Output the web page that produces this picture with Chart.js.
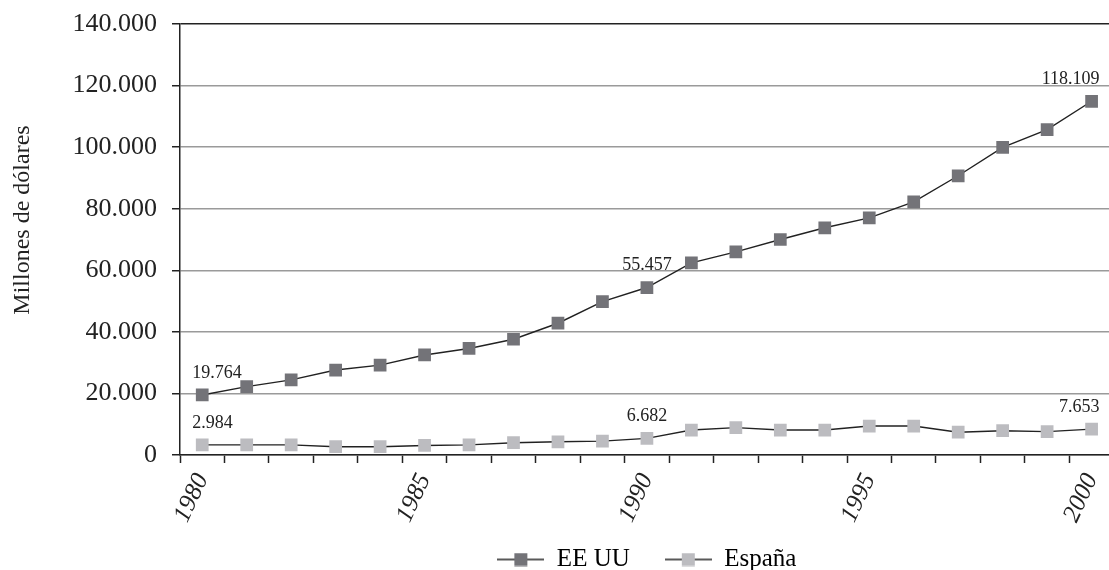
<!DOCTYPE html>
<html>
<head>
<meta charset="utf-8">
<script src="https://cdn.jsdelivr.net/npm/chart.js@4.4.1/dist/chart.umd.min.js"></script>
<style>
  html, body { margin: 0; padding: 0; background: #fff; overflow: hidden; }
  #wrap { width: 1109px; height: 570px; overflow: hidden; position: relative; }
  #wrap canvas { position: absolute; left: 0; top: 0; }
</style>
</head>
<body>
<div id="wrap"><canvas id="chart" width="1125" height="582"></canvas></div>
<script>
// Data (millones de dólares)
const years = ['1980', '1981', '1982', '1983', '1984', '1985', '1986', '1987', '1988', '1989', '1990',
  '1991', '1992', '1993', '1994', '1995', '1996', '1997', '1998', '1999', '2000'];
const usa = [19500, 22200, 24400, 27600, 29200, 32500, 34600, 37600, 42800, 49800, 54400,
  62400, 66000, 70000, 73800, 77000, 82200, 90700, 99900, 105700, 114900];
const spain = [3300, 3300, 3300, 2700, 2700, 3100, 3300, 4000, 4300, 4500, 5400,
  8100, 8900, 8100, 8100, 9400, 9400, 7400, 7900, 7600, 8400];
const shownYears = ['1980', '1985', '1990', '1995', '2000'];
const yTicks = [0, 20000, 40000, 60000, 80000, 100000, 120000, 140000];
const usaLabels = { '1980': '19.764', '1990': '55.457', '2000': '118.109' };
const spainLabels = { '1980': '2.984', '1990': '6.682', '2000': '7.653' };

const SERIF = "'Liberation Serif', 'DejaVu Serif', serif";
const fmt = v => v === 0 ? '0' : String(v).replace(/\B(?=(\d{3})+(?!\d))/g, '.');

// legend marker: short line with a square in the middle
function legendMarker(fill) {
  const c = document.createElement('canvas');
  c.width = 47; c.height = 14;
  const g = c.getContext('2d');
  g.strokeStyle = '#222';
  g.lineWidth = 1.5;
  g.beginPath(); g.moveTo(0, 7); g.lineTo(47, 7); g.stroke();
  g.fillStyle = fill;
  g.fillRect(17, 0.5, 13, 13);
  return c;
}

const valueLabels = {
  id: 'valueLabels',
  afterDatasetsDraw(chart) {
    const { ctx } = chart;
    const sets = [usaLabels, spainLabels];
    ctx.save();
    ctx.font = '18px ' + SERIF;
    ctx.fillStyle = '#222';
    ctx.textBaseline = 'middle';
    sets.forEach((labels, di) => {
      const meta = chart.getDatasetMeta(di);
      meta.data.forEach((pt, i) => {
        const txt = labels[years[i]];
        if (!txt) return;
        let x = pt.x;
        if (i === 0) { ctx.textAlign = 'left'; x = pt.x - 10; }
        else if (i === years.length - 1) { ctx.textAlign = 'right'; x = pt.x + 8; }
        else { ctx.textAlign = 'center'; }
        ctx.fillText(txt, x, pt.y - 22);
      });
    });
    ctx.restore();
  }
};

const yTitle = {
  id: 'yTitle',
  afterDraw(chart) {
    const { ctx } = chart;
    ctx.save();
    ctx.translate(23, 220);
    ctx.rotate(-Math.PI / 2);
    ctx.font = '24px ' + SERIF;
    ctx.fillStyle = '#222';
    ctx.textAlign = 'center';
    ctx.textBaseline = 'middle';
    ctx.fillText('Millones de dólares', 0, 0);
    ctx.restore();
  }
};

const markers = { 'EE UU': legendMarker('#737378'), 'España': legendMarker('#bcbcc0') };

new Chart(document.getElementById('chart'), {
  type: 'line',
  data: {
    labels: years,
    datasets: [
      {
        label: 'EE UU',
        data: usa,
        borderColor: '#222',
        borderWidth: 1.4,
        pointStyle: 'rect',
        pointRadius: 9,
        pointBorderWidth: 0,
        pointBackgroundColor: '#737378',
        tension: 0,
      },
      {
        label: 'España',
        data: spain,
        borderColor: '#222',
        borderWidth: 1.4,
        pointStyle: 'rect',
        pointRadius: 9,
        pointBorderWidth: 0,
        pointBackgroundColor: '#bcbcc0',
        tension: 0,
      },
    ],
  },
  options: {
    responsive: false,
    animation: false,
    devicePixelRatio: 1,
    layout: { padding: { top: 24, right: 4, left: 0, bottom: 0 } },
    plugins: {
      tooltip: { enabled: false },
      legend: {
        position: 'bottom',
        fullSize: false,
        labels: {
          font: { family: SERIF, size: 25 },
          color: '#222',
          usePointStyle: true,
          pointStyleWidth: 47,
          padding: 10,
          generateLabels(chart) {
            // trailing spaces widen the gap between the two entries
            return chart.data.datasets.map((ds, i) => ({
              text: i === 0 ? ds.label + '    ' : ds.label,
              pointStyle: markers[ds.label],
              fillStyle: ds.pointBackgroundColor,
              strokeStyle: '#222',
              lineWidth: 0,
              hidden: false,
              datasetIndex: i,
            }));
          },
        },
      },
    },
    scales: {
      x: {
        type: 'category',
        offset: true,
        border: { color: '#222', width: 1.5 },
        grid: { display: true, drawOnChartArea: false, offset: true, tickLength: 8, tickColor: '#222', tickWidth: 1.5 },
        ticks: {
          autoSkip: false,
          minRotation: 65,
          maxRotation: 65,
          padding: 6,
          color: '#222',
          font: { family: SERIF, size: 25, style: 'italic' },
          callback(v, i) { return shownYears.includes(years[i]) ? years[i] : ''; },
        },
        afterFit(scale) { scale.height = 82; },
      },
      y: {
        min: 0,
        max: 140000,
        afterBuildTicks(scale) { scale.ticks = yTicks.map(v => ({ value: v })); },
        border: { color: '#222', width: 1.5 },
        grid: {
          color: ctx => ctx.tick && ctx.tick.value === 140000 ? '#222' : '#9a9a9a',
          lineWidth: 1.5,
          tickLength: 8,
          tickColor: '#222',
        },
        ticks: {
          padding: 15,
          color: '#222',
          font: { family: SERIF, size: 26 },
          callback: v => fmt(v),
        },
        afterFit(scale) {
          scale.width = 180;
          scale.paddingTop = 8;
          scale.paddingBottom = 8;
        },
      },
    },
  },
  plugins: [valueLabels, yTitle],
});
</script>
</body>
</html>
